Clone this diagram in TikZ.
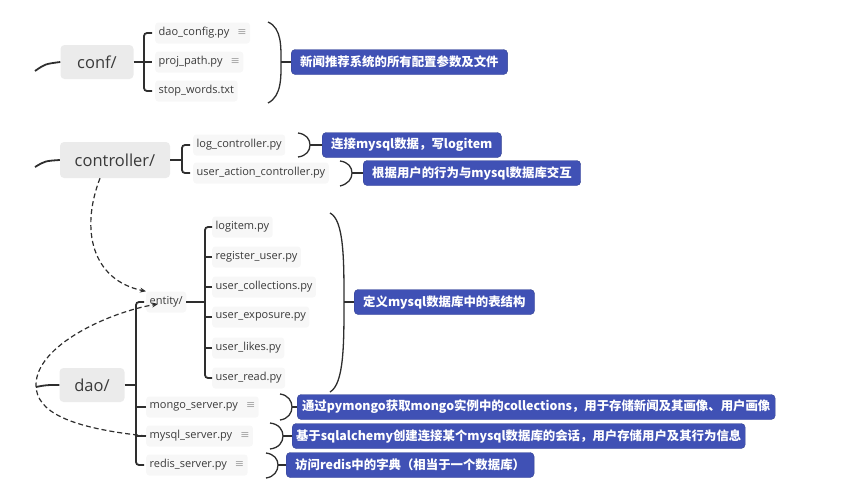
\documentclass[tikz,border=0pt]{standalone}
\usepackage{fontspec}
\setmainfont{Open Sans}
\newfontfamily\cjk{Noto Sans CJK SC}
\newfontfamily\sym{DejaVu Sans}
\usepackage{tikz}
\usetikzlibrary{arrows.meta,positioning}
\usepackage{xcolor}
\definecolor{notebl}{HTML}{4051B5}
\definecolor{dirgray}{HTML}{EBEBEB}
\definecolor{filegray}{HTML}{F7F7F7}
\definecolor{txtgray}{HTML}{3A3A3A}
\definecolor{lnk}{HTML}{2E2E2E}
\newcommand{\noteicon}{\hspace{8pt}{\sym\color{gray!70}\fontsize{11}{11}\selectfont ≡}}

\begin{document}
\begin{tikzpicture}[
  x=1pt, y=-1pt,
  dirbox/.style={fill=dirgray, rounded corners=4pt, text=txtgray, font=\fontsize{16.5}{16.5}\selectfont, minimum height=34pt, align=center},
  filebox/.style={fill=filegray, rounded corners=3pt, text=txtgray, font=\fontsize{11}{11}\selectfont, anchor=west, inner xsep=3.5pt, minimum height=21pt},
  notebox/.style={fill=notebl, draw=notebl!80!black, rounded corners=4pt, text=white, font=\cjk\bfseries\fontsize{12.4}{12.4}\selectfont, anchor=west, inner xsep=9pt, minimum height=25pt},
  brk/.style={draw=lnk, line width=1.8pt},
  sbr/.style={draw=lnk, line width=1.3pt},
  dsh/.style={draw=lnk, line width=1.2pt, dash pattern=on 5pt off 3pt, -{Stealth[length=6pt,width=5pt]}},
]
  \useasboundingbox (0,0) rectangle (849,490);

  % Top-level folders
  \node[dirbox, minimum width=73pt] (conf) at (97,62) {conf/};
  \node[dirbox, minimum width=110pt, minimum height=36pt] (ctrl) at (115,160) {controller/};
  \node[dirbox, minimum width=65pt] (dao) at (92,385) {dao/};

  % conf/ files
  \node[filebox] (daocfg) at (155,33) {dao\_config.py\noteicon};
  \node[filebox] (projpath) at (155,62) {proj\_path.py\noteicon};
  \node[filebox] (stopw) at (155,91) {stop\_words.txt};

  % controller/ files
  \node[filebox] (logctrl) at (193,145) {log\_controller.py};
  \node[filebox] (useract) at (193,173) {user\_action\_controller.py};

  % dao/ files
  \node[filebox] (entity) at (146,302) {entity/};
  \node[filebox] (mongo) at (146,407) {mongo\_server.py\noteicon};
  \node[filebox] (mysql) at (146,436) {mysql\_server.py\noteicon};
  \node[filebox] (redis) at (146,465) {redis\_server.py\noteicon};

  % entity/ files
  \node[filebox] (logitem) at (212,227) {logitem.py};
  \node[filebox] (reguser) at (212,257) {register\_user.py};
  \node[filebox] (ucoll) at (212,287) {user\_collections.py};
  \node[filebox] (uexpo) at (212,317) {user\_exposure.py};
  \node[filebox] (ulikes) at (212,348) {user\_likes.py};
  \node[filebox] (uread) at (212,378) {user\_read.py};

  % Notes
  \node[notebox] (noteconf) at (291,62) {新闻推荐系统的所有配置参数及文件};
  \node[notebox] (notelog) at (322,145) {连接mysql数据，写logitem};
  \node[notebox] (noteuser) at (363,173) {根据用户的行为与mysql数据库交互};
  \node[notebox] (noteentity) at (354,302) {定义mysql数据库中的表结构};
  \node[notebox, inner xsep=3pt, minimum width=478pt] (notemongo) at (297,407) {通过pymongo获取mongo实例中的collections，用于存储新闻及其画像、用户画像};
  \node[notebox, inner xsep=3pt, minimum width=453pt] (notemysql) at (292,436) {基于sqlalchemy创建连接某个mysql数据库的会话，用户存储用户及其行为信息};
  \node[notebox] (noteredis) at (286,465) {访问redis中的字典（相当于一个数据库）};

  % Incoming stubs from the root
  \coordinate (confin) at (35,71);
  \coordinate (ctrlin) at (35,167);
  \coordinate (daoin) at (36,387);
  \draw[brk] (confin) .. controls (45,64) .. (conf.west);
  \draw[brk] (ctrlin) .. controls (45,161) .. (ctrl.west);
  \draw[brk] (daoin) .. controls (46,385) .. (dao.west);

  % Brackets: conf/
  \draw[brk, rounded corners=3pt] ([xshift=-3pt]daocfg.west) -- ++(-8,0) -- ([xshift=-11pt]stopw.west) -- ([xshift=-3pt]stopw.west);
  \draw[brk] (conf.east) -- ([xshift=-3pt]projpath.west);

  % Brackets: controller/
  \coordinate (ctrlbr) at ([xshift=-11pt]logctrl.west);
  \draw[brk, rounded corners=3pt] ([xshift=-3pt]logctrl.west) -- (ctrlbr) -- ([xshift=-11pt]useract.west) -- ([xshift=-3pt]useract.west);
  \draw[brk] (ctrl.east) -- (ctrl.east -| ctrlbr);

  % Brackets: dao/
  \coordinate (daobr) at ([xshift=-10pt]entity.west);
  \draw[brk, rounded corners=3pt] ([xshift=-2pt]entity.west) -- (daobr) -- ([xshift=-10pt]redis.west) -- ([xshift=-2pt]redis.west);
  \draw[brk] (dao.east) -- (dao.east -| daobr);
  \draw[brk] (mongo.west) -- ++(-10,0);
  \draw[brk] (mysql.west) -- ++(-10,0);

  % Brackets: entity/
  \coordinate (entbr) at ([xshift=-7pt]logitem.west);
  \draw[brk, rounded corners=3pt] (logitem.west) -- (entbr) -- ([xshift=-7pt]uread.west) -- (uread.west);
  \draw[brk] (entity.east) -- (entity.east -| entbr);
  \draw[brk] (reguser.west) -- ++(-7,0);
  \draw[brk] (ucoll.west) -- ++(-7,0);
  \draw[brk] (uexpo.west) -- ++(-7,0);
  \draw[brk] (ulikes.west) -- ++(-7,0);

  % Summary braces
  \draw[sbr] (268,22) .. controls (282,28) and (281,48) .. (281,62) .. controls (281,76) and (282,96) .. (268,103);
  \draw[sbr] (281,62) -- (noteconf.west);
  \draw[sbr] (298,133) .. controls (306,134) and (310,139) .. (310,145) .. controls (310,151) and (306,156) .. (298,157);
  \draw[sbr] (310,145) -- (notelog.west);
  \draw[sbr] (340,161) .. controls (348,162) and (352,167) .. (352,173) .. controls (352,179) and (348,184) .. (340,186);
  \draw[sbr] (352,173) -- (noteuser.west);
  \draw[sbr] (330,213) .. controls (344,220) and (344,260) .. (344,302) .. controls (344,344) and (344,384) .. (330,392);
  \draw[sbr] (344,302) -- (noteentity.west);
  \draw[sbr] (280,394) .. controls (288,395) and (292,401) .. (292,407) .. controls (292,413) and (288,419) .. (280,420);
  \draw[sbr] (292,407) -- (notemongo.west);
  \draw[sbr] (270,423) .. controls (279,424) and (283,430) .. (283,436) .. controls (283,442) and (279,448) .. (270,449);
  \draw[sbr] (283,436) -- (notemysql.west);
  \draw[sbr] (266,453) .. controls (274,454) and (278,459) .. (278,465) .. controls (278,471) and (274,477) .. (266,478);
  \draw[sbr] (278,465) -- (noteredis.west);

  % Dashed links to entity/
  \draw[dsh] ([xshift=-15pt]ctrl.south) .. controls (80,230) and (92,280) .. (entity.north west);
  \draw[dsh] (mysql.west) .. controls (70,428) and (36,412) .. (36,385) .. controls (36,345) and (110,312) .. ([xshift=12pt,yshift=-2pt]entity.west);
\end{tikzpicture}
\end{document}
